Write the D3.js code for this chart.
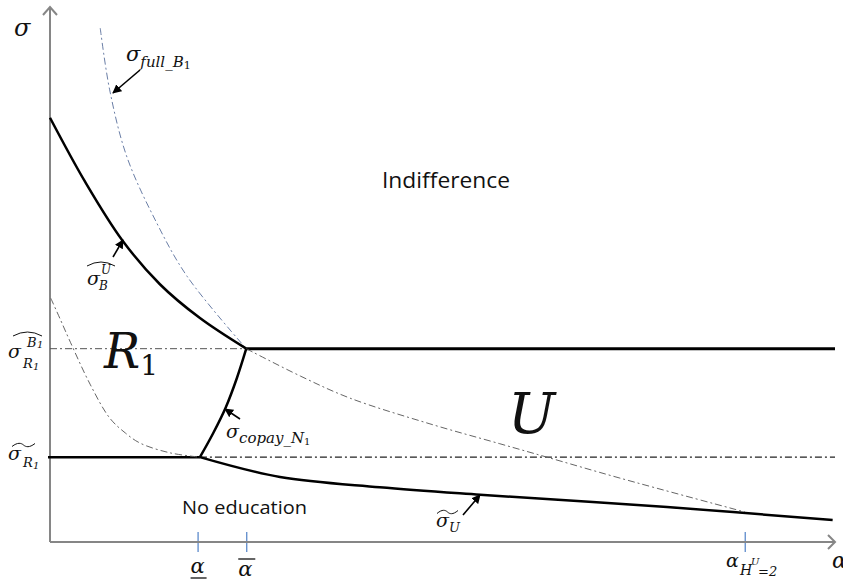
<!DOCTYPE html>
<html>
<head>
<meta charset="utf-8">
<script src="https://cdn.jsdelivr.net/npm/d3@7"></script>
<style>
  html, body { margin: 0; padding: 0; background: #fff; }
  svg { display: block; }
  .math { font-family: "DejaVu Serif", "Liberation Serif", serif; font-style: italic; fill: #111; }
  .word { font-family: "Open Sans", "Noto Sans", sans-serif; fill: #111; }
</style>
</head>
<body>
<div id="chart"></div>
<script>
// ── data (alpha on x, sigma on y, schematic units) ───────────
const SIGMA_HAT_R1B1 = 3.6;    // upper horizontal threshold
const SIGMA_TILDE_R1 = 1.58;   // lower horizontal threshold
const ALPHA_LOW  = 1.88;       // α underline
const ALPHA_HIGH = 2.5;        // α overline
const ALPHA_HU2  = 8.85;       // α_{H^U=2}
const ALPHA_MAX  = 10;

// σ̂_B^U  (solid)
const sigmaBU = [[0, 7.9], [0.45, 6.7], [0.92, 5.62], [1.4, 4.8], [1.91, 4.17], [2.5, 3.6]];
// σ_full_B1  (blue dash-dot)
const sigmaFull = [[0.64, 9.57], [0.76, 8.42], [0.98, 7.17], [1.36, 5.94], [1.75, 4.94], [2.5, 3.6]];
// dash-dot continuation towards α_{H^U=2}
const sigmaRight = [[2.5, 3.6], [3.19, 3.09], [3.82, 2.68], [4.84, 2.2], [5.73, 1.83], [6.33, 1.58], [7.26, 1.19], [8.85, 0.56]];
// grey dash-dot curve on the left
const sigmaLeft = [[0.01, 4.54], [0.13, 4.15], [0.26, 3.72], [0.51, 2.94], [0.76, 2.31], [0.96, 2.03], [1.15, 1.84], [1.53, 1.66], [1.91, 1.58]];
// σ_copay_N1  (solid)
const sigmaCopay = [[1.91, 1.58], [2.08, 2.03], [2.24, 2.51], [2.38, 3.05], [2.5, 3.6]];
// σ̃_U  (solid)
const sigmaTildeU = [[1.91, 1.58], [2.93, 1.21], [4.2, 1.02], [5.48, 0.88], [7.86, 0.65], [9.97, 0.41]];

const alphaTicks = [ALPHA_LOW, ALPHA_HIGH, ALPHA_HU2];

// ── layout ───────────────────────────────────────────────────
const W = 843, H = 580;
const X0 = 50, X1 = 835, Y0 = 542, Y1 = 5;
const DASHDOT = "7,3,2,3";

const x = d3.scaleLinear().domain([0, ALPHA_MAX]).range([X0, X1]);
const y = d3.scaleLinear().domain([0, 10]).range([Y0, Y1]);

const svg = d3.select("#chart").append("svg")
  .attr("width", W).attr("height", H);

const defs = svg.append("defs");
defs.append("marker")
  .attr("id", "tip")
  .attr("viewBox", "0 0 10 10")
  .attr("refX", 9).attr("refY", 5)
  .attr("markerWidth", 9).attr("markerHeight", 9)
  .attr("markerUnits", "userSpaceOnUse")
  .attr("orient", "auto")
  .append("path").attr("d", "M0,0 L10,5 L0,10 Z").attr("fill", "#000");

const line = d3.line().x(d => x(d[0])).y(d => y(d[1])).curve(d3.curveCatmullRom.alpha(0.5));

// ── axes ─────────────────────────────────────────────────────
const axisG = svg.append("g")
  .attr("transform", `translate(0,${Y0})`)
  .call(d3.axisBottom(x).tickValues(alphaTicks).tickFormat("").tickSizeOuter(0));
axisG.select(".domain").remove();
axisG.selectAll(".tick line")
  .attr("y1", -10).attr("y2", 10)
  .attr("stroke", "#4f81c7").attr("stroke-width", 1.2);

// axis lines with open arrowheads
svg.append("line").attr("x1", X0).attr("y1", Y0).attr("x2", X1).attr("y2", Y0)
  .attr("stroke", "#868686").attr("stroke-width", 2);
svg.append("line").attr("x1", X0).attr("y1", Y0).attr("x2", X0).attr("y2", 7)
  .attr("stroke", "#868686").attr("stroke-width", 2);
svg.append("path").attr("d", `M${X1 - 7},${Y0 - 7} L${X1},${Y0} L${X1 - 7},${Y0 + 7}`)
  .attr("fill", "none").attr("stroke", "#868686").attr("stroke-width", 2);
svg.append("path").attr("d", `M${X0 - 7},15 L${X0},7 L${X0 + 7},15`)
  .attr("fill", "none").attr("stroke", "#868686").attr("stroke-width", 2);

// ── horizontal thresholds ────────────────────────────────────
svg.append("line")
  .attr("x1", x(0)).attr("x2", x(ALPHA_HIGH))
  .attr("y1", y(SIGMA_HAT_R1B1)).attr("y2", y(SIGMA_HAT_R1B1))
  .attr("stroke", "#555").attr("stroke-width", 1).attr("stroke-dasharray", DASHDOT);
svg.append("line")
  .attr("x1", x(ALPHA_HIGH)).attr("x2", x(ALPHA_MAX))
  .attr("y1", y(SIGMA_HAT_R1B1)).attr("y2", y(SIGMA_HAT_R1B1))
  .attr("stroke", "#000").attr("stroke-width", 3);
svg.append("line")
  .attr("x1", x(0) - 2).attr("x2", x(sigmaCopay[0][0]))
  .attr("y1", y(SIGMA_TILDE_R1)).attr("y2", y(SIGMA_TILDE_R1))
  .attr("stroke", "#000").attr("stroke-width", 2.5);
svg.append("line")
  .attr("x1", x(sigmaCopay[0][0])).attr("x2", x(ALPHA_MAX))
  .attr("y1", y(SIGMA_TILDE_R1)).attr("y2", y(SIGMA_TILDE_R1))
  .attr("stroke", "#222").attr("stroke-width", 1.1).attr("stroke-dasharray", DASHDOT);

// ── curves ───────────────────────────────────────────────────
const curves = [
  { data: sigmaFull,   stroke: "#6a7ea6", width: 1,   dash: DASHDOT },
  { data: sigmaRight,  stroke: "#666",    width: 1,   dash: DASHDOT },
  { data: sigmaLeft,   stroke: "#666",    width: 1,   dash: DASHDOT },
  { data: sigmaBU,     stroke: "#000",    width: 2.5, dash: null },
  { data: sigmaCopay,  stroke: "#000",    width: 2.5, dash: null },
  { data: sigmaTildeU, stroke: "#000",    width: 2.5, dash: null }
];
curves.forEach(c => {
  svg.append("path")
    .attr("d", line(c.data))
    .attr("fill", "none")
    .attr("stroke", c.stroke)
    .attr("stroke-width", c.width)
    .attr("stroke-dasharray", c.dash);
});

// ── pointer arrows (label → curve) ───────────────────────────
const arrows = [[140, 70, 113, 93], [113, 257, 123, 240], [240, 419, 225, 409], [463, 515, 480, 495]];
arrows.forEach(([ax, ay, bx, by]) => {
  svg.append("line")
    .attr("x1", ax).attr("y1", ay).attr("x2", bx).attr("y2", by)
    .attr("stroke", "#000").attr("stroke-width", 1.6)
    .attr("marker-end", "url(#tip)");
});

// ── math labels ──────────────────────────────────────────────
function mtext(px, py, size, str) {
  return svg.append("text").attr("class", "math")
    .attr("x", px).attr("y", py).attr("font-size", size).text(str);
}
function hat(x1, x2, yy) {
  svg.append("path")
    .attr("d", `M${x1},${yy + 3} Q${(x1 + x2) / 2},${yy - 5} ${x2},${yy + 3}`)
    .attr("fill", "none").attr("stroke", "#111").attr("stroke-width", 1);
}
function tilde(x1, x2, yy) {
  const w = x2 - x1;
  svg.append("path")
    .attr("d", `M${x1},${yy + 1.5} C${x1 + w * 0.25},${yy - 3} ${x1 + w * 0.4},${yy - 2} ${x1 + w / 2},${yy}` +
               ` S${x1 + w * 0.75},${yy + 3} ${x2},${yy - 1.5}`)
    .attr("fill", "none").attr("stroke", "#111").attr("stroke-width", 1);
}

// y-axis name
mtext(14, 36, 24, "σ");
// x-axis name (cut by the edge)
mtext(832, 568, 22, "α");

// σ_full_B1
const tFull = mtext(126, 61, 21, "σ");
tFull.append("tspan").attr("y", 67).attr("font-size", 15).text("full_B");
tFull.append("tspan").attr("y", 69).attr("font-size", 11).attr("font-style", "normal").text("1");

// σ̂_B^U
mtext(87, 285, 19, "σ");
mtext(101, 274, 12, "U");
mtext(99, 290, 12, "B");
hat(87, 115, 263);

// σ̂_R1^B1 (left)
mtext(8, 358, 19, "σ");
mtext(23, 368, 13, "R");
mtext(33, 370, 10, "1").attr("font-style", "normal");
mtext(27, 347, 13, "B");
mtext(37, 348, 10, "1").attr("font-style", "normal");
hat(13, 42, 333);

// σ̃_R1 (left)
mtext(8, 460, 19, "σ");
mtext(23, 467, 13, "R");
mtext(33, 469, 10, "1").attr("font-style", "normal");
tilde(12, 35, 445);

// σ_copay_N1
const tCopay = mtext(226, 438, 19, "σ");
tCopay.append("tspan").attr("y", 443).attr("font-size", 15).text("copay_N");
tCopay.append("tspan").attr("y", 445).attr("font-size", 10).attr("font-style", "normal").text("1");

// σ̃_U
mtext(436, 527, 19, "σ");
mtext(449, 532, 13, "U");
tilde(437, 458, 512);

// α underline, α overline, α_{H^U=2}
mtext(x(ALPHA_LOW) - 7, 573, 21, "α");
svg.append("line").attr("x1", x(ALPHA_LOW) - 7).attr("x2", x(ALPHA_LOW) + 9)
  .attr("y1", 578).attr("y2", 578).attr("stroke", "#111").attr("stroke-width", 1.3);
mtext(x(ALPHA_HIGH) - 8, 576, 21, "α");
svg.append("line").attr("x1", x(ALPHA_HIGH) - 8).attr("x2", x(ALPHA_HIGH) + 9)
  .attr("y1", 559).attr("y2", 559).attr("stroke", "#111").attr("stroke-width", 1.3);
mtext(726, 567, 19, "α");
mtext(740, 575, 14, "H");
mtext(751, 565, 10, "U");
mtext(758, 576, 13, "=2").attr("font-style", "normal");

// ── region labels ────────────────────────────────────────────
svg.append("text").attr("class", "word")
  .attr("x", 382).attr("y", 188).attr("font-size", 22)
  .attr("textLength", 128).attr("lengthAdjust", "spacingAndGlyphs")
  .text("Indifference");
svg.append("text").attr("class", "word")
  .attr("x", 182).attr("y", 514).attr("font-size", 19)
  .attr("textLength", 125).attr("lengthAdjust", "spacingAndGlyphs")
  .text("No education");

const tR = svg.append("text").attr("class", "math")
  .attr("x", 104).attr("y", 368).attr("font-size", 48).text("R");
tR.append("tspan").attr("y", 375).attr("font-size", 28).attr("font-style", "normal").text("1");

svg.append("text").attr("class", "math")
  .attr("x", 508).attr("y", 433).attr("font-size", 56).text("U");
</script>
</body>
</html>
